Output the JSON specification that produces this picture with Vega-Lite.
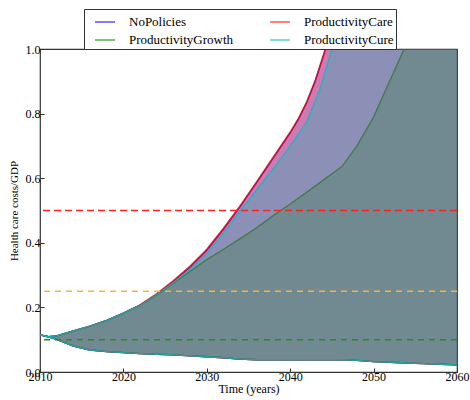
{
  "$schema": "https://vega.github.io/schema/vega-lite/v6.json",
  "autosize": {"type": "none"},
  "width": 417,
  "height": 323,
  "padding": {"left": 40, "top": 49, "right": 13, "bottom": 28},
  "background": "white",
  "config": {
    "view": {"stroke": "#333333", "strokeWidth": 1.2},
    "font": "Liberation Serif",
    "axis": {
      "labelFont": "Liberation Serif",
      "titleFont": "Liberation Serif",
      "labelColor": "#000000",
      "titleColor": "#000000",
      "labelFontSize": 12,
      "titleFontSize": 12,
      "titleFontWeight": "normal",
      "grid": false,
      "domain": false,
      "tickColor": "#333333",
      "tickSize": -4,
      "tickWidth": 1
    },
    "legend": {
      "orient": "none",
      "legendX": 44,
      "legendY": -40,
      "columns": 2,
      "columnPadding": 28,
      "rowPadding": 0,
      "padding": 2,
      "symbolOffset": 8,
      "strokeColor": "#333333",
      "fillColor": "white",
      "symbolType": "stroke",
      "symbolSize": 400,
      "symbolStrokeWidth": 2,
      "symbolOpacity": 0.5,
      "labelFont": "Liberation Serif",
      "labelFontSize": 13,
      "labelColor": "#000000",
      "labelOffset": 13,
      "labelLimit": 200
    }
  },
  "datasets": {
    "bands": [
      {"series": "NoPolicies", "year": 2010, "lo": 0.115, "hi": 0.115},
      {"series": "NoPolicies", "year": 2011, "lo": 0.109, "hi": 0.109},
      {"series": "NoPolicies", "year": 2012, "lo": 0.101, "hi": 0.112},
      {"series": "NoPolicies", "year": 2014, "lo": 0.080, "hi": 0.127},
      {"series": "NoPolicies", "year": 2016, "lo": 0.068, "hi": 0.142},
      {"series": "NoPolicies", "year": 2018, "lo": 0.063, "hi": 0.160},
      {"series": "NoPolicies", "year": 2020, "lo": 0.060, "hi": 0.182},
      {"series": "NoPolicies", "year": 2022, "lo": 0.057, "hi": 0.207},
      {"series": "NoPolicies", "year": 2024, "lo": 0.055, "hi": 0.240},
      {"series": "NoPolicies", "year": 2026, "lo": 0.053, "hi": 0.280},
      {"series": "NoPolicies", "year": 2028, "lo": 0.050, "hi": 0.325},
      {"series": "NoPolicies", "year": 2030, "lo": 0.047, "hi": 0.377},
      {"series": "NoPolicies", "year": 2032, "lo": 0.044, "hi": 0.442},
      {"series": "NoPolicies", "year": 2034, "lo": 0.040, "hi": 0.512},
      {"series": "NoPolicies", "year": 2036, "lo": 0.038, "hi": 0.587},
      {"series": "NoPolicies", "year": 2038, "lo": 0.038, "hi": 0.664},
      {"series": "NoPolicies", "year": 2040, "lo": 0.038, "hi": 0.740},
      {"series": "NoPolicies", "year": 2041, "lo": 0.038, "hi": 0.783},
      {"series": "NoPolicies", "year": 2042, "lo": 0.038, "hi": 0.835},
      {"series": "NoPolicies", "year": 2043, "lo": 0.038, "hi": 0.900},
      {"series": "NoPolicies", "year": 2044, "lo": 0.038, "hi": 0.980},
      {"series": "NoPolicies", "year": 2046, "lo": 0.038, "hi": 1.15},
      {"series": "NoPolicies", "year": 2048, "lo": 0.036, "hi": 1.32},
      {"series": "NoPolicies", "year": 2050, "lo": 0.032, "hi": 1.5},
      {"series": "NoPolicies", "year": 2052, "lo": 0.030, "hi": 1.7},
      {"series": "NoPolicies", "year": 2054, "lo": 0.028, "hi": 1.9},
      {"series": "NoPolicies", "year": 2056, "lo": 0.026, "hi": 2.1},
      {"series": "NoPolicies", "year": 2058, "lo": 0.024, "hi": 2.3},
      {"series": "NoPolicies", "year": 2060, "lo": 0.022, "hi": 2.5},

      {"series": "ProductivityGrowth", "year": 2010, "lo": 0.115, "hi": 0.115},
      {"series": "ProductivityGrowth", "year": 2011, "lo": 0.109, "hi": 0.109},
      {"series": "ProductivityGrowth", "year": 2012, "lo": 0.101, "hi": 0.112},
      {"series": "ProductivityGrowth", "year": 2014, "lo": 0.080, "hi": 0.127},
      {"series": "ProductivityGrowth", "year": 2016, "lo": 0.068, "hi": 0.142},
      {"series": "ProductivityGrowth", "year": 2018, "lo": 0.063, "hi": 0.160},
      {"series": "ProductivityGrowth", "year": 2020, "lo": 0.060, "hi": 0.182},
      {"series": "ProductivityGrowth", "year": 2022, "lo": 0.057, "hi": 0.206},
      {"series": "ProductivityGrowth", "year": 2024, "lo": 0.055, "hi": 0.238},
      {"series": "ProductivityGrowth", "year": 2026, "lo": 0.053, "hi": 0.275},
      {"series": "ProductivityGrowth", "year": 2028, "lo": 0.050, "hi": 0.312},
      {"series": "ProductivityGrowth", "year": 2030, "lo": 0.047, "hi": 0.348},
      {"series": "ProductivityGrowth", "year": 2032, "lo": 0.044, "hi": 0.380},
      {"series": "ProductivityGrowth", "year": 2034, "lo": 0.040, "hi": 0.413},
      {"series": "ProductivityGrowth", "year": 2036, "lo": 0.038, "hi": 0.447},
      {"series": "ProductivityGrowth", "year": 2038, "lo": 0.038, "hi": 0.485},
      {"series": "ProductivityGrowth", "year": 2040, "lo": 0.038, "hi": 0.520},
      {"series": "ProductivityGrowth", "year": 2042, "lo": 0.038, "hi": 0.557},
      {"series": "ProductivityGrowth", "year": 2044, "lo": 0.038, "hi": 0.595},
      {"series": "ProductivityGrowth", "year": 2046.2, "lo": 0.038, "hi": 0.636},
      {"series": "ProductivityGrowth", "year": 2048, "lo": 0.036, "hi": 0.700},
      {"series": "ProductivityGrowth", "year": 2050, "lo": 0.032, "hi": 0.790},
      {"series": "ProductivityGrowth", "year": 2052, "lo": 0.030, "hi": 0.905},
      {"series": "ProductivityGrowth", "year": 2054, "lo": 0.028, "hi": 1.02},
      {"series": "ProductivityGrowth", "year": 2056, "lo": 0.026, "hi": 1.15},
      {"series": "ProductivityGrowth", "year": 2058, "lo": 0.024, "hi": 1.3},
      {"series": "ProductivityGrowth", "year": 2060, "lo": 0.022, "hi": 1.45},

      {"series": "ProductivityCare", "year": 2010, "lo": 0.115, "hi": 0.115},
      {"series": "ProductivityCare", "year": 2011, "lo": 0.109, "hi": 0.109},
      {"series": "ProductivityCare", "year": 2012, "lo": 0.101, "hi": 0.112},
      {"series": "ProductivityCare", "year": 2014, "lo": 0.080, "hi": 0.127},
      {"series": "ProductivityCare", "year": 2016, "lo": 0.068, "hi": 0.142},
      {"series": "ProductivityCare", "year": 2018, "lo": 0.063, "hi": 0.160},
      {"series": "ProductivityCare", "year": 2020, "lo": 0.060, "hi": 0.182},
      {"series": "ProductivityCare", "year": 2022, "lo": 0.057, "hi": 0.208},
      {"series": "ProductivityCare", "year": 2024, "lo": 0.055, "hi": 0.243},
      {"series": "ProductivityCare", "year": 2026, "lo": 0.053, "hi": 0.283},
      {"series": "ProductivityCare", "year": 2028, "lo": 0.050, "hi": 0.328},
      {"series": "ProductivityCare", "year": 2030, "lo": 0.047, "hi": 0.380},
      {"series": "ProductivityCare", "year": 2032, "lo": 0.044, "hi": 0.445},
      {"series": "ProductivityCare", "year": 2034, "lo": 0.040, "hi": 0.515},
      {"series": "ProductivityCare", "year": 2036, "lo": 0.038, "hi": 0.590},
      {"series": "ProductivityCare", "year": 2038, "lo": 0.038, "hi": 0.667},
      {"series": "ProductivityCare", "year": 2040, "lo": 0.038, "hi": 0.743},
      {"series": "ProductivityCare", "year": 2041, "lo": 0.038, "hi": 0.786},
      {"series": "ProductivityCare", "year": 2042, "lo": 0.038, "hi": 0.838},
      {"series": "ProductivityCare", "year": 2043, "lo": 0.038, "hi": 0.903},
      {"series": "ProductivityCare", "year": 2044, "lo": 0.038, "hi": 0.983},
      {"series": "ProductivityCare", "year": 2046, "lo": 0.038, "hi": 1.15},
      {"series": "ProductivityCare", "year": 2048, "lo": 0.036, "hi": 1.32},
      {"series": "ProductivityCare", "year": 2050, "lo": 0.032, "hi": 1.5},
      {"series": "ProductivityCare", "year": 2052, "lo": 0.030, "hi": 1.7},
      {"series": "ProductivityCare", "year": 2054, "lo": 0.028, "hi": 1.9},
      {"series": "ProductivityCare", "year": 2056, "lo": 0.026, "hi": 2.1},
      {"series": "ProductivityCare", "year": 2058, "lo": 0.024, "hi": 2.3},
      {"series": "ProductivityCare", "year": 2060, "lo": 0.022, "hi": 2.5},

      {"series": "ProductivityCure", "year": 2010, "lo": 0.115, "hi": 0.115},
      {"series": "ProductivityCure", "year": 2011, "lo": 0.109, "hi": 0.109},
      {"series": "ProductivityCure", "year": 2012, "lo": 0.101, "hi": 0.112},
      {"series": "ProductivityCure", "year": 2014, "lo": 0.080, "hi": 0.127},
      {"series": "ProductivityCure", "year": 2016, "lo": 0.068, "hi": 0.142},
      {"series": "ProductivityCure", "year": 2018, "lo": 0.063, "hi": 0.160},
      {"series": "ProductivityCure", "year": 2020, "lo": 0.060, "hi": 0.182},
      {"series": "ProductivityCure", "year": 2022, "lo": 0.057, "hi": 0.206},
      {"series": "ProductivityCure", "year": 2024, "lo": 0.055, "hi": 0.240},
      {"series": "ProductivityCure", "year": 2026, "lo": 0.053, "hi": 0.277},
      {"series": "ProductivityCure", "year": 2028, "lo": 0.050, "hi": 0.318},
      {"series": "ProductivityCure", "year": 2030, "lo": 0.047, "hi": 0.367},
      {"series": "ProductivityCure", "year": 2032, "lo": 0.044, "hi": 0.430},
      {"series": "ProductivityCure", "year": 2034, "lo": 0.040, "hi": 0.500},
      {"series": "ProductivityCure", "year": 2036, "lo": 0.038, "hi": 0.565},
      {"series": "ProductivityCure", "year": 2038, "lo": 0.038, "hi": 0.630},
      {"series": "ProductivityCure", "year": 2040, "lo": 0.038, "hi": 0.700},
      {"series": "ProductivityCure", "year": 2042, "lo": 0.038, "hi": 0.775},
      {"series": "ProductivityCure", "year": 2043.6, "lo": 0.038, "hi": 0.878},
      {"series": "ProductivityCure", "year": 2045, "lo": 0.038, "hi": 1.0},
      {"series": "ProductivityCure", "year": 2046, "lo": 0.038, "hi": 1.09},
      {"series": "ProductivityCure", "year": 2048, "lo": 0.036, "hi": 1.27},
      {"series": "ProductivityCure", "year": 2050, "lo": 0.032, "hi": 1.45},
      {"series": "ProductivityCure", "year": 2052, "lo": 0.030, "hi": 1.64},
      {"series": "ProductivityCure", "year": 2054, "lo": 0.028, "hi": 1.83},
      {"series": "ProductivityCure", "year": 2056, "lo": 0.026, "hi": 2.02},
      {"series": "ProductivityCure", "year": 2058, "lo": 0.024, "hi": 2.2},
      {"series": "ProductivityCure", "year": 2060, "lo": 0.022, "hi": 2.4}
    ],
    "thresholds": [
      {"level": 0.5, "kind": "high"},
      {"level": 0.25, "kind": "mid"},
      {"level": 0.1, "kind": "low"}
    ]
  },
  "data": {"name": "bands"},
  "layer": [
    {
      "transform": [{"filter": "datum.series === 'NoPolicies'"}],
      "layer": [
        {
          "mark": {"type": "area", "opacity": 0.3, "clip": true},
          "encoding": {
            "x": {"field": "year", "type": "quantitative", "scale": {"domain": [2010, 2060], "nice": false},
                  "axis": {"values": [2010, 2020, 2030, 2040, 2050, 2060], "format": "d", "title": "Time (years)", "labelPadding": 3, "titlePadding": 1, "labelFlush": false}},
            "y": {"field": "hi", "type": "quantitative", "scale": {"domain": [0, 1], "nice": false},
                  "axis": {"values": [0, 0.2, 0.4, 0.6, 0.8, 1.0], "format": ".1f", "title": "Health care costs/GDP", "titleFontSize": 11, "labelPadding": 4, "titlePadding": 6, "labelFlush": false}},
            "y2": {"field": "lo"},
            "color": {"field": "series", "type": "nominal", "title": null,
                      "scale": {"domain": ["NoPolicies", "ProductivityGrowth", "ProductivityCare", "ProductivityCure"], "range": ["#0000ff", "#008000", "#ff0000", "#00bfbf"]}}
          }
        },
        {
          "mark": {"type": "line", "clip": true, "strokeWidth": 1.4, "opacity": 0.8},
          "encoding": {
            "x": {"field": "year", "type": "quantitative"},
            "y": {"field": "hi", "type": "quantitative"},
            "color": {"field": "series", "type": "nominal", "title": null}
          }
        },
        {
          "mark": {"type": "line", "clip": true, "strokeWidth": 1.4, "opacity": 0.8},
          "encoding": {
            "x": {"field": "year", "type": "quantitative"},
            "y": {"field": "lo", "type": "quantitative"},
            "color": {"field": "series", "type": "nominal", "title": null}
          }
        }
      ]
    },
    {
      "transform": [{"filter": "datum.series === 'ProductivityGrowth'"}],
      "layer": [
        {
          "mark": {"type": "area", "opacity": 0.3, "clip": true},
          "encoding": {
            "x": {"field": "year", "type": "quantitative"},
            "y": {"field": "hi", "type": "quantitative"},
            "y2": {"field": "lo"},
            "color": {"field": "series", "type": "nominal", "title": null}
          }
        },
        {
          "mark": {"type": "line", "clip": true, "strokeWidth": 1.4, "opacity": 0.8},
          "encoding": {
            "x": {"field": "year", "type": "quantitative"},
            "y": {"field": "hi", "type": "quantitative"},
            "color": {"field": "series", "type": "nominal", "title": null}
          }
        },
        {
          "mark": {"type": "line", "clip": true, "strokeWidth": 1.4, "opacity": 0.8},
          "encoding": {
            "x": {"field": "year", "type": "quantitative"},
            "y": {"field": "lo", "type": "quantitative"},
            "color": {"field": "series", "type": "nominal", "title": null}
          }
        }
      ]
    },
    {
      "transform": [{"filter": "datum.series === 'ProductivityCare'"}],
      "layer": [
        {
          "mark": {"type": "area", "opacity": 0.3, "clip": true},
          "encoding": {
            "x": {"field": "year", "type": "quantitative"},
            "y": {"field": "hi", "type": "quantitative"},
            "y2": {"field": "lo"},
            "color": {"field": "series", "type": "nominal", "title": null}
          }
        },
        {
          "mark": {"type": "line", "clip": true, "strokeWidth": 1.4, "opacity": 0.8},
          "encoding": {
            "x": {"field": "year", "type": "quantitative"},
            "y": {"field": "hi", "type": "quantitative"},
            "color": {"field": "series", "type": "nominal", "title": null}
          }
        },
        {
          "mark": {"type": "line", "clip": true, "strokeWidth": 1.4, "opacity": 0.8},
          "encoding": {
            "x": {"field": "year", "type": "quantitative"},
            "y": {"field": "lo", "type": "quantitative"},
            "color": {"field": "series", "type": "nominal", "title": null}
          }
        }
      ]
    },
    {
      "transform": [{"filter": "datum.series === 'ProductivityCure'"}],
      "layer": [
        {
          "mark": {"type": "area", "opacity": 0.3, "clip": true},
          "encoding": {
            "x": {"field": "year", "type": "quantitative"},
            "y": {"field": "hi", "type": "quantitative"},
            "y2": {"field": "lo"},
            "color": {"field": "series", "type": "nominal", "title": null}
          }
        },
        {
          "mark": {"type": "line", "clip": true, "strokeWidth": 1.4, "opacity": 0.8},
          "encoding": {
            "x": {"field": "year", "type": "quantitative"},
            "y": {"field": "hi", "type": "quantitative"},
            "color": {"field": "series", "type": "nominal", "title": null}
          }
        },
        {
          "mark": {"type": "line", "clip": true, "strokeWidth": 1.4, "opacity": 0.8},
          "encoding": {
            "x": {"field": "year", "type": "quantitative"},
            "y": {"field": "lo", "type": "quantitative"},
            "color": {"field": "series", "type": "nominal", "title": null}
          }
        }
      ]
    },
    {
      "data": {"name": "thresholds"},
      "transform": [{"filter": "datum.kind === 'high'"}],
      "mark": {"type": "rule", "color": "#ff2020", "strokeWidth": 1.5, "strokeDash": [7, 4]},
      "encoding": {"y": {"field": "level", "type": "quantitative"}}
    },
    {
      "data": {"name": "thresholds"},
      "transform": [{"filter": "datum.kind === 'mid'"}],
      "mark": {"type": "rule", "color": "#ffb040", "strokeWidth": 1.5, "strokeDash": [6, 5]},
      "encoding": {"y": {"field": "level", "type": "quantitative"}}
    },
    {
      "data": {"name": "thresholds"},
      "transform": [{"filter": "datum.kind === 'low'"}],
      "mark": {"type": "rule", "color": "#2a8a2a", "strokeWidth": 1.5, "strokeDash": [6, 5]},
      "encoding": {"y": {"field": "level", "type": "quantitative"}}
    }
  ]
}
